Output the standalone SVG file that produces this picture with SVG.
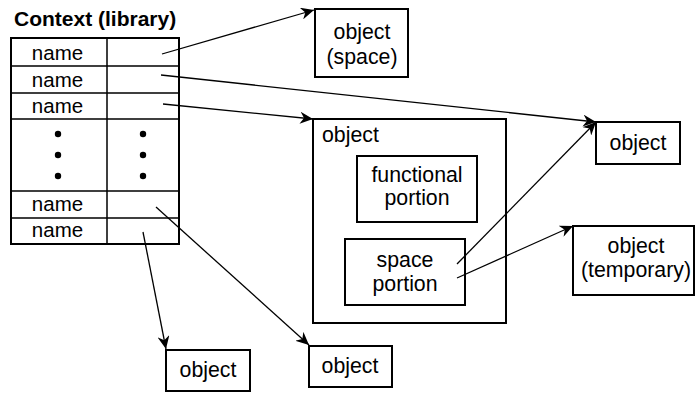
<svg xmlns="http://www.w3.org/2000/svg" width="696" height="393" viewBox="0 0 696 393">
<style>
text{font-family:"Liberation Sans",Arial,sans-serif;font-size:21.3px;fill:#000}
.t{font-weight:bold;font-size:21px}
.n{font-size:20.5px}
.c{text-anchor:middle}
.box{fill:#fff;stroke:#000;stroke-width:2}
.grid{stroke:#000;stroke-width:1.5;fill:none}
.arr{stroke:#000;stroke-width:1.3;fill:none;marker-end:url(#ah)}
</style>
<defs>
<marker id="ah" markerUnits="userSpaceOnUse" markerWidth="14" markerHeight="12" viewBox="0 0 14 12" refX="13" refY="6" orient="auto">
<path d="M0,0 L13,6 L0,12 L4,6 z" fill="#000"/>
</marker>
</defs>
<rect width="696" height="393" fill="#fff"/>
<g id="context">
<text class="t" x="14" y="26">Context (library)</text>
<rect x="11" y="38" width="168" height="206" fill="#fff" stroke="#000" stroke-width="2"/>
<path class="grid" d="M107,38 V244 M11,66 H179 M11,93 H179 M11,119 H179 M11,191 H179 M11,218 H179"/>
<text class="c n" x="57.5" y="59.5">name</text>
<text class="c n" x="57.5" y="86.5">name</text>
<text class="c n" x="57.5" y="113">name</text>
<text class="c n" x="57.5" y="211">name</text>
<text class="c n" x="57.5" y="237">name</text>
<g fill="#000">
<circle cx="58" cy="134" r="3.2"/><circle cx="58" cy="155" r="3.2"/><circle cx="58" cy="176" r="3.2"/>
<circle cx="143" cy="134" r="3.2"/><circle cx="143" cy="155" r="3.2"/><circle cx="143" cy="176" r="3.2"/>
</g>
</g>
<g id="obj-space">
<rect class="box" x="315" y="9" width="93" height="68"/>
<text class="c" x="362" y="39">object</text>
<text class="c" x="362" y="64">(space)</text>
</g>
<g id="obj-main">
<rect class="box" x="313" y="119" width="193" height="204"/>
<text x="322" y="142">object</text>
</g>
<g id="functional">
<rect class="box" x="357" y="156" width="120" height="66"/>
<text class="c" x="417" y="182">functional</text>
<text class="c" x="417" y="205">portion</text>
</g>
<g id="space-portion">
<rect class="box" x="345" y="239" width="120" height="66"/>
<text class="c" x="405" y="267">space</text>
<text class="c" x="405" y="291">portion</text>
</g>
<g id="obj-right">
<rect class="box" x="596" y="122" width="84" height="42"/>
<text class="c" x="638" y="150">object</text>
</g>
<g id="obj-temp">
<rect class="box" x="573" y="226" width="121" height="69"/>
<text class="c" x="636" y="253">object</text>
<text class="c" x="636" y="277">(temporary)</text>
</g>
<g id="obj-bl">
<rect class="box" x="166" y="350" width="84" height="41"/>
<text class="c" x="208" y="377">object</text>
</g>
<g id="obj-bm">
<rect class="box" x="309" y="346" width="83" height="41"/>
<text class="c" x="350" y="373">object</text>
</g>
<g id="connectors">
<line class="arr" x1="162" y1="54" x2="314" y2="10"/>
<line class="arr" x1="161" y1="75" x2="596" y2="122"/>
<line class="arr" x1="163" y1="104" x2="313" y2="119"/>
<line class="arr" x1="156" y1="207" x2="309" y2="345"/>
<line class="arr" x1="143" y1="232" x2="166" y2="349"/>
<line class="arr" x1="457" y1="264" x2="596" y2="122"/>
<line class="arr" x1="457" y1="278" x2="573" y2="226"/>
</g>
</svg>
